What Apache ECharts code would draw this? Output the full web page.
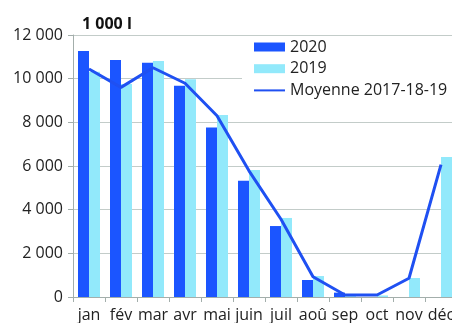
<!DOCTYPE html>
<html>
<head>
<meta charset="utf-8">
<script src="https://cdn.jsdelivr.net/npm/echarts@6/dist/echarts.min.js"></script>
<style>
  html, body { margin: 0; padding: 0; background: #fff; overflow: hidden; }
  #chart { width: 452px; height: 323px; }
</style>
</head>
<body>
<div id="chart"></div>
<script>
// Monthly volumes, in thousands of litres
const months = ['jan', 'fév', 'mar', 'avr', 'mai', 'juin', 'juil', 'aoû', 'sep', 'oct', 'nov', 'déc'];
const vol2020 = [11270, 10860, 10730, 9670, 7760, 5330, 3250, 780, 200, 0, 0, 0];
const vol2019 = [10320, 9760, 10810, 9970, 8340, 5820, 3620, 960, 40, 70, 870, 6410];
const avg171819 = [10440, 9600, 10500, 9790, 8300, 5780, 3560, 930, 90, 90, 860, 6060];
const yTicks = [0, 2000, 4000, 6000, 8000, 10000, 12000];

const FONT = 'Open Sans';
const fmt = v => String(v).replace(/\B(?=(\d{3})+(?!\d))/g, ' ');

const chart = echarts.init(document.getElementById('chart'));
chart.setOption({
  animation: false,
  textStyle: { fontFamily: FONT },
  title: {
    text: '1 000 l',
    left: 82, top: 16, padding: 0,
    textStyle: { fontFamily: FONT, fontSize: 16, fontWeight: 'bold', color: '#111' }
  },
  // plot area runs a little past the right edge of the canvas
  grid: { left: 73, width: 384, top: 35, bottom: 26, containLabel: false, outerBoundsMode: 'none' },
  legend: {
    orient: 'vertical',
    left: 242, top: 36,
    padding: [3, 20, 14, 11],
    backgroundColor: '#fff',
    itemWidth: 31, itemHeight: 9,
    itemGap: 5.7,
    textStyle: { fontFamily: FONT, fontSize: 16, color: '#222', lineHeight: 16 },
    data: [
      { name: '2020', icon: 'rect' },
      { name: '2019', icon: 'rect' },
      { name: 'Moyenne 2017-18-19', itemStyle: { color: 'rgba(0,0,0,0)', borderColor: 'rgba(0,0,0,0)', borderWidth: 0 } }
    ]
  },
  xAxis: {
    type: 'category',
    data: months,
    axisLine: { lineStyle: { color: '#a3aeab', width: 1 } },
    axisTick: { show: true, length: 5, lineStyle: { color: '#a3aeab' } },
    axisLabel: { fontFamily: FONT, fontSize: 16, color: '#222', margin: 10, interval: 0 }
  },
  yAxis: {
    type: 'value',
    min: yTicks[0], max: yTicks[yTicks.length - 1], interval: yTicks[1] - yTicks[0],
    axisLine: { show: true, lineStyle: { color: '#a3aeab', width: 1 } },
    axisTick: { show: true, length: 5, lineStyle: { color: '#a3aeab' } },
    splitLine: { lineStyle: { color: '#c3ccc9', width: 1 } },
    axisLabel: { fontFamily: FONT, fontSize: 16, color: '#222', margin: 10, formatter: fmt }
  },
  series: [
    {
      name: '2020', type: 'bar', data: vol2020,
      barWidth: 11, barGap: '0%',
      itemStyle: { color: '#1b55ff' }
    },
    {
      name: '2019', type: 'bar', data: vol2019,
      barWidth: 11, barGap: '0%',
      itemStyle: { color: '#92e9fb' }
    },
    {
      name: 'Moyenne 2017-18-19', type: 'line', data: avg171819,
      symbol: 'none', z: 5,
      lineStyle: { color: '#1f50f2', width: 3 },
      itemStyle: { color: '#1f50f2' }
    }
  ]
});
</script>
</body>
</html>
